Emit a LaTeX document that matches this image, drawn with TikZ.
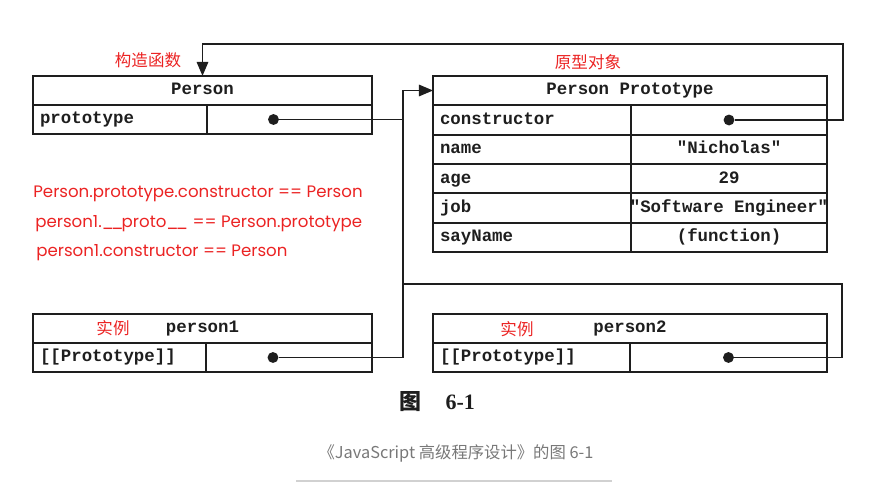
\documentclass[tikz,border=0pt]{standalone}
\usepackage{fontspec}
\setmainfont{Liberation Serif}
\newfontfamily\monofont{Liberation Mono}
\newfontfamily\cjkfont{Noto Sans CJK SC}
\newfontfamily\notefont{Poppins}
\usetikzlibrary{arrows.meta, positioning}
\definecolor{noteRed}{RGB}{235,35,35}
\definecolor{capGray}{RGB}{120,120,120}
\definecolor{inkBlack}{RGB}{30,30,30}

\begin{document}
\begin{tikzpicture}[x=0.02cm, y=-0.02cm,
  cell/.style={draw=inkBlack, line width=1pt, outer sep=0pt, inner sep=0pt,
    minimum height=0.58cm, text=inkBlack, text height=7pt, text depth=2pt,
    font=\monofont\bfseries\fontsize{9.9}{12}\selectfont},
  keycell/.style={cell, inner xsep=4pt, align=left, anchor=north west},
  valcell/.style={cell, anchor=north east},
  dot/.style={circle, fill=inkBlack, inner sep=0pt, minimum size=6.2pt},
  link/.style={draw=inkBlack, line width=1pt},
  arr/.style={-{Triangle[length=8pt, width=6.5pt]}},
  redtag/.style={text=noteRed, font=\cjkfont\fontsize{9.4}{11}\selectfont},
  note/.style={anchor=west, inner xsep=0pt, text=noteRed,
    font=\notefont\fontsize{9.45}{11}\selectfont}]
  \useasboundingbox (0,0) rectangle (880,483);

  % Person (constructor)
  \node[cell, minimum width=6.78cm] (phead) at (202.5,90.5) {Person};
  \node[keycell, text width=3.2cm] (pkey) at (phead.south west) {prototype};
  \node[valcell, minimum width=3.3cm] (pval) at (phead.south east) {};
  \node[dot] (pdot) at ([xshift=-0.32cm]pval.center) {};

  % Person Prototype
  \node[cell, minimum width=7.88cm] (prothead) at (630,90.5) {Person Prototype};
  \foreach \k/\v [count=\i] in {constructor/{}, name/"Nicholas", age/29,
      job/"Software Engineer", sayName/(function)} {
    \node[keycell, text width=3.68cm, minimum height=0.587cm] (pk\i) at (433,{76+29.33*\i}) {\k};
    \node[valcell, minimum width=3.92cm, minimum height=0.587cm] (pv\i) at (827,{76+29.33*\i}) {\makebox[0pt]{\v}};
  }
  \node[dot] (cdot) at (pv1.center) {};

  % Instances
  \node[cell, minimum width=6.78cm] (p1head) at (202.5,328.5) {person1};
  \node[keycell, text width=3.18cm] (p1key) at (p1head.south west) {[[Prototype]]};
  \node[valcell, minimum width=3.32cm] (p1val) at (p1head.south east) {};
  \node[dot] (p1dot) at ([xshift=-0.32cm]p1val.center) {};

  \node[cell, minimum width=7.88cm] (p2head) at (630,328.5) {person2};
  \node[keycell, text width=3.66cm] (p2key) at (p2head.south west) {[[Prototype]]};
  \node[valcell, minimum width=3.94cm] (p2val) at (p2head.south east) {};
  \node[dot] (p2dot) at (p2val.center) {};

  % Red tags
  \node[redtag] (ctortag) at (148,60) {构造函数};
  \node[redtag] (prototag) at (588,62) {原型对象};
  \node[redtag] (inst1) at (113,328) {实例};
  \node[redtag] (inst2) at (517,329) {实例};

  \node[note] (eq1) at (33,194) {Person.prototype.constructor == Person};
  \node[note] (eq2) at (35,224) {person1.\_\kern-1.5pt\_\kern-1pt proto\_\kern-1.5pt\_ == Person.prototype};
  \node[note] (eq3) at (36,253) {person1.constructor == Person};

  % Pointers
  \coordinate[left=0.6cm of prothead.west] (jx);
  \coordinate (rx) at (842,284);
  \coordinate (topr) at (843,44);
  \draw[link] (pdot) -- (pdot -| jx);
  \draw[link, arr] (p1dot) -| (jx) -- (prothead.west);
  \draw[link] (p2dot) -| (rx) -- (rx -| jx);
  \draw[link, arr] (cdot) -| (topr) -| (phead.north);

  % Captions
  \node[text=inkBlack, font=\bfseries\fontsize{12.5}{14}\selectfont] (fig) at (437,402)
    {{\cjkfont 图}\hspace{14pt}6-1};
  \node[text=capGray, font=\cjkfont\fontsize{9.3}{11}\selectfont] (cap) at (456,453)
    {《JavaScript 高级程序设计》的图 6-1};
  \draw[black!18, line width=0.8pt] (296,481) -- (612,481);
\end{tikzpicture}
\end{document}
